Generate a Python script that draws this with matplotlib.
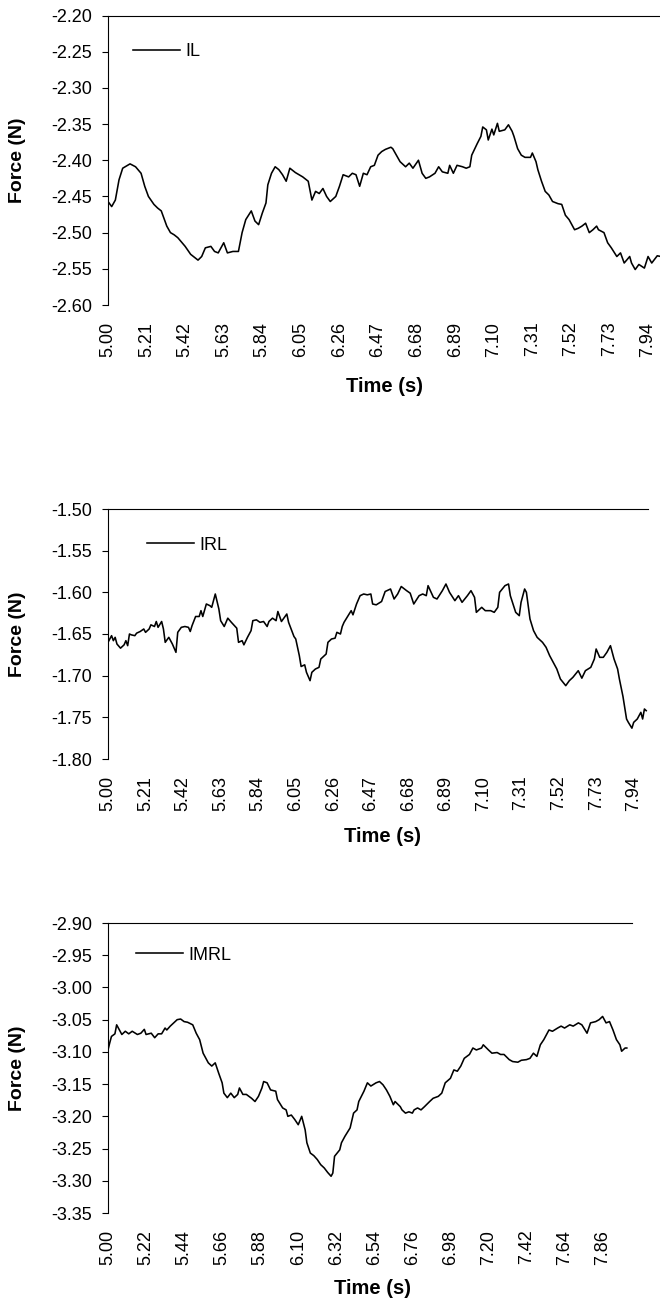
import matplotlib
matplotlib.use('Agg')
import matplotlib.pyplot as plt

plt.rcParams['font.family'] = ['Liberation Sans', 'DejaVu Sans']
plt.rcParams['axes.unicode_minus'] = False

# ---- IL ----
time_il = [5.00, 5.02, 5.04, 5.06, 5.08, 5.12, 5.15, 5.18, 5.20, 5.22,
           5.25, 5.27, 5.29, 5.32, 5.34, 5.36, 5.38, 5.42, 5.45, 5.49,
           5.51, 5.53, 5.56, 5.58, 5.60, 5.63, 5.65, 5.68, 5.71, 5.73,
           5.75, 5.78, 5.80, 5.82, 5.84, 5.86, 5.87, 5.89, 5.91, 5.93,
           5.95, 5.97, 5.99, 6.02, 6.04, 6.06, 6.09, 6.11, 6.13, 6.15,
           6.17, 6.19, 6.21, 6.24, 6.26, 6.28, 6.31, 6.33, 6.35, 6.37,
           6.39, 6.41, 6.43, 6.45, 6.47, 6.49, 6.51, 6.54, 6.55, 6.57,
           6.59, 6.62, 6.64, 6.66, 6.69, 6.71, 6.73, 6.75, 6.78, 6.80,
           6.82, 6.85, 6.86, 6.88, 6.90, 6.93, 6.95, 6.97, 6.98, 7.01,
           7.03, 7.04, 7.06, 7.07, 7.09, 7.10, 7.12, 7.13, 7.16, 7.18,
           7.20, 7.21, 7.23, 7.25, 7.27, 7.30, 7.31, 7.33, 7.34, 7.36,
           7.38, 7.40, 7.42, 7.45, 7.47, 7.49, 7.51, 7.54, 7.56, 7.58,
           7.60, 7.62, 7.64, 7.66, 7.67, 7.70, 7.72, 7.74, 7.77, 7.79,
           7.81, 7.84, 7.85, 7.87, 7.89, 7.92, 7.94, 7.96, 7.99, 8.01]
force_il = [-2.457, -2.464, -2.455, -2.427, -2.411, -2.405, -2.409, -2.418, -2.436, -2.450,
            -2.461, -2.466, -2.470, -2.491, -2.500, -2.503, -2.507, -2.519, -2.530, -2.538,
            -2.533, -2.521, -2.519, -2.526, -2.528, -2.514, -2.528, -2.526, -2.526, -2.500,
            -2.482, -2.470, -2.484, -2.489, -2.473, -2.459, -2.434, -2.418, -2.409, -2.413,
            -2.420, -2.429, -2.411, -2.417, -2.420, -2.423, -2.429, -2.455, -2.443, -2.446,
            -2.439, -2.450, -2.457, -2.450, -2.436, -2.420, -2.423, -2.418, -2.420, -2.436,
            -2.418, -2.420, -2.409, -2.407, -2.393, -2.388, -2.385, -2.382, -2.384, -2.393,
            -2.402, -2.409, -2.404, -2.411, -2.400, -2.418, -2.425, -2.423, -2.418, -2.409,
            -2.416, -2.418, -2.407, -2.418, -2.407, -2.409, -2.411, -2.409, -2.393, -2.377,
            -2.367, -2.354, -2.358, -2.372, -2.357, -2.365, -2.349, -2.360, -2.358, -2.351,
            -2.360, -2.367, -2.384, -2.393, -2.396, -2.396, -2.390, -2.402, -2.413, -2.429,
            -2.443, -2.448, -2.457, -2.460, -2.461, -2.476, -2.482, -2.496, -2.494, -2.491,
            -2.487, -2.500, -2.496, -2.491, -2.496, -2.500, -2.514, -2.521, -2.533, -2.528,
            -2.542, -2.533, -2.542, -2.551, -2.544, -2.549, -2.533, -2.542, -2.532, -2.533]
yticks_il = [-2.60, -2.55, -2.50, -2.45, -2.40, -2.35, -2.30, -2.25, -2.20]
xlabels_il = ['5.00', '5.21', '5.42', '5.63', '5.84', '6.05', '6.26', '6.47',
              '6.68', '6.89', '7.10', '7.31', '7.52', '7.73', '7.94']

# ---- IRL ----
time_irl = [5.00, 5.01, 5.02, 5.03, 5.04, 5.05, 5.07, 5.09, 5.10, 5.11,
            5.12, 5.13, 5.15, 5.16, 5.18, 5.20, 5.21, 5.23, 5.24, 5.26,
            5.27, 5.28, 5.30, 5.31, 5.32, 5.34, 5.36, 5.38, 5.39, 5.41,
            5.43, 5.45, 5.46, 5.47, 5.49, 5.51, 5.52, 5.53, 5.55, 5.57,
            5.58, 5.60, 5.62, 5.63, 5.65, 5.67, 5.69, 5.72, 5.73, 5.75,
            5.76, 5.78, 5.80, 5.81, 5.83, 5.85, 5.87, 5.89, 5.90, 5.92,
            5.94, 5.95, 5.97, 6.00, 6.01, 6.04, 6.05, 6.07, 6.08, 6.10,
            6.11, 6.13, 6.14, 6.16, 6.18, 6.19, 6.22, 6.23, 6.25, 6.27,
            6.28, 6.30, 6.31, 6.32, 6.34, 6.36, 6.37, 6.39, 6.41, 6.43,
            6.45, 6.47, 6.48, 6.50, 6.53, 6.55, 6.58, 6.60, 6.62, 6.64,
            6.67, 6.69, 6.71, 6.74, 6.76, 6.78, 6.79, 6.82, 6.84, 6.87,
            6.89, 6.91, 6.94, 6.96, 6.98, 7.01, 7.03, 7.05, 7.06, 7.09,
            7.11, 7.14, 7.16, 7.18, 7.19, 7.22, 7.24, 7.25, 7.28, 7.30,
            7.31, 7.33, 7.34, 7.36, 7.38, 7.40, 7.43, 7.45, 7.47, 7.49,
            7.51, 7.53, 7.56, 7.58, 7.60, 7.63, 7.65, 7.67, 7.70, 7.72,
            7.73, 7.75, 7.77, 7.79, 7.81, 7.83, 7.85, 7.86, 7.88, 7.90,
            7.91, 7.93, 7.94, 7.96, 7.98, 7.99, 8.00, 8.01]
force_irl = [-1.660, -1.656, -1.652, -1.658, -1.654, -1.662, -1.667, -1.663, -1.658, -1.664,
             -1.650, -1.651, -1.652, -1.649, -1.647, -1.644, -1.648, -1.644, -1.639, -1.641,
             -1.635, -1.642, -1.635, -1.644, -1.660, -1.654, -1.662, -1.672, -1.648, -1.642,
             -1.641, -1.642, -1.647, -1.640, -1.629, -1.629, -1.622, -1.629, -1.614, -1.616,
             -1.618, -1.602, -1.620, -1.634, -1.641, -1.631, -1.636, -1.643, -1.660, -1.658,
             -1.663, -1.654, -1.646, -1.634, -1.633, -1.636, -1.635, -1.641, -1.635, -1.631,
             -1.634, -1.623, -1.635, -1.626, -1.636, -1.653, -1.656, -1.676, -1.689, -1.687,
             -1.696, -1.706, -1.696, -1.692, -1.690, -1.680, -1.674, -1.660, -1.656, -1.655,
             -1.648, -1.650, -1.641, -1.636, -1.629, -1.622, -1.627, -1.614, -1.604, -1.602,
             -1.603, -1.602, -1.614, -1.615, -1.611, -1.599, -1.596, -1.608, -1.602, -1.593,
             -1.598, -1.601, -1.614, -1.604, -1.602, -1.604, -1.592, -1.606, -1.608, -1.598,
             -1.590, -1.600, -1.610, -1.604, -1.612, -1.604, -1.598, -1.606, -1.624, -1.618,
             -1.622, -1.622, -1.624, -1.618, -1.600, -1.592, -1.590, -1.604, -1.624, -1.628,
             -1.612, -1.596, -1.600, -1.632, -1.646, -1.654, -1.660, -1.666, -1.676, -1.684,
             -1.692, -1.704, -1.712, -1.706, -1.702, -1.694, -1.703, -1.694, -1.690, -1.680,
             -1.668, -1.678, -1.678, -1.672, -1.664, -1.680, -1.692, -1.704, -1.725, -1.752,
             -1.756, -1.763, -1.756, -1.752, -1.744, -1.752, -1.740, -1.742]
yticks_irl = [-1.80, -1.75, -1.70, -1.65, -1.60, -1.55, -1.50]
xlabels_irl = ['5.00', '5.21', '5.42', '5.63', '5.84', '6.05', '6.26', '6.47',
               '6.68', '6.89', '7.10', '7.31', '7.52', '7.73', '7.94']

# ---- IMRL ----
time_imrl = [5.00, 5.01, 5.02, 5.04, 5.05, 5.06, 5.08, 5.10, 5.12, 5.14,
             5.17, 5.19, 5.21, 5.22, 5.25, 5.27, 5.29, 5.31, 5.33, 5.34,
             5.36, 5.38, 5.40, 5.42, 5.44, 5.46, 5.49, 5.51, 5.53, 5.55,
             5.56, 5.58, 5.60, 5.62, 5.64, 5.66, 5.67, 5.69, 5.71, 5.73,
             5.75, 5.76, 5.78, 5.80, 5.83, 5.85, 5.87, 5.89, 5.90, 5.92,
             5.94, 5.97, 5.98, 6.01, 6.03, 6.04, 6.06, 6.08, 6.10, 6.12,
             6.14, 6.15, 6.17, 6.19, 6.21, 6.23, 6.25, 6.27, 6.29, 6.30,
             6.31, 6.34, 6.35, 6.37, 6.40, 6.42, 6.44, 6.45, 6.48, 6.50,
             6.52, 6.55, 6.57, 6.59, 6.61, 6.63, 6.65, 6.66, 6.69, 6.70,
             6.72, 6.74, 6.76, 6.77, 6.79, 6.81, 6.83, 6.86, 6.88, 6.91,
             6.93, 6.95, 6.98, 7.00, 7.02, 7.04, 7.06, 7.09, 7.11, 7.13,
             7.16, 7.17, 7.20, 7.22, 7.25, 7.27, 7.29, 7.32, 7.34, 7.37,
             7.39, 7.42, 7.44, 7.46, 7.48, 7.50, 7.52, 7.55, 7.57, 7.60,
             7.62, 7.64, 7.67, 7.69, 7.72, 7.74, 7.77, 7.79, 7.82, 7.84,
             7.86, 7.88, 7.90, 7.92, 7.94, 7.96, 7.97, 7.99, 8.00]
force_imrl = [-3.097, -3.086, -3.076, -3.072, -3.058, -3.063, -3.073, -3.068, -3.072, -3.068,
              -3.073, -3.071, -3.065, -3.073, -3.071, -3.078, -3.072, -3.072, -3.063, -3.066,
              -3.060, -3.055, -3.050, -3.049, -3.053, -3.054, -3.058, -3.071, -3.081, -3.102,
              -3.107, -3.117, -3.122, -3.117, -3.133, -3.148, -3.164, -3.171, -3.164, -3.171,
              -3.166, -3.156, -3.166, -3.166, -3.172, -3.177, -3.169, -3.156, -3.146, -3.148,
              -3.159, -3.161, -3.174, -3.187, -3.190, -3.200, -3.198, -3.205, -3.213, -3.200,
              -3.221, -3.241, -3.257, -3.261, -3.267, -3.275, -3.280, -3.287, -3.293, -3.288,
              -3.262, -3.252, -3.241, -3.231, -3.218, -3.195, -3.190, -3.177, -3.161, -3.148,
              -3.153, -3.148, -3.146, -3.151, -3.159, -3.169, -3.182, -3.177, -3.185, -3.190,
              -3.195, -3.193, -3.195, -3.190, -3.187, -3.190, -3.185, -3.177, -3.172, -3.169,
              -3.164, -3.148, -3.141, -3.128, -3.130, -3.122, -3.110, -3.104, -3.094, -3.097,
              -3.094, -3.089, -3.097, -3.102, -3.101, -3.104, -3.104, -3.112, -3.115, -3.116,
              -3.113, -3.112, -3.110, -3.102, -3.107, -3.089, -3.081, -3.066, -3.068, -3.063,
              -3.060, -3.063, -3.058, -3.060, -3.055, -3.058, -3.071, -3.055, -3.053, -3.050,
              -3.045, -3.055, -3.053, -3.066, -3.081, -3.089, -3.099, -3.094, -3.094]
yticks_imrl = [-3.35, -3.30, -3.25, -3.20, -3.15, -3.10, -3.05, -3.00, -2.95, -2.90]
xlabels_imrl = ['5.00', '5.22', '5.44', '5.66', '5.88', '6.10', '6.32', '6.54',
                '6.76', '6.98', '7.20', '7.42', '7.64', '7.86']

W, H = 660, 1301
fig = plt.figure(figsize=(W / 100, H / 100), dpi=100)


def px_axes(left, top, right, bottom):
    return fig.add_axes([left / W, 1 - bottom / H, (right - left) / W, (bottom - top) / H])


# (times, forces, name, yticks, xlabels, box in px, xmax, legend anchor, time label centre)
panels = [
    (time_il, force_il, 'IL', yticks_il, xlabels_il, (108, 15.5, 660, 305), 8.005, (133, 52), (385, 386)),
    (time_irl, force_irl, 'IRL', yticks_irl, xlabels_irl, (108, 509, 648, 759), 8.02, (147, 545), (383, 837)),
    (time_imrl, force_imrl, 'IMRL', yticks_imrl, xlabels_imrl, (108, 923, 632, 1213), 8.03, (136, 955), (372, 1288)),
]

for t, f, name, yt, xl, box, xmax, leg, tl in panels:
    ax = px_axes(*box)
    ax.plot(t, f, color='black', lw=1.15, label=name)
    ax.set_xlim(5.0, xmax)
    ax.set_ylim(yt[0], yt[-1])
    ax.set_yticks(yt)
    ax.set_yticklabels(['%.2f' % v for v in yt])
    ax.set_xticks([float(s) for s in xl])
    ax.set_xticklabels(xl, rotation=90)
    ax.tick_params(axis='y', direction='out', length=4.3, width=0.8, pad=7, labelsize=13)
    ax.tick_params(axis='x', length=0, pad=12, labelsize=13)
    for s in ['right', 'bottom']:
        ax.spines[s].set_visible(False)
    for s in ['left', 'top']:
        ax.spines[s].set_linewidth(0.8)
        ax.spines[s].set_color('black')
    l, tp, r, b = box
    ax.legend(loc='center left',
              bbox_to_anchor=((leg[0] - l) / (r - l), (b - leg[1]) / (b - tp)),
              frameon=False, handlelength=2.6, handletextpad=0.3,
              borderpad=0, borderaxespad=0, fontsize=13)
    fig.text(18 / W, 1 - (tp + b) / 2 / H, 'Force (N)', rotation=90,
             ha='center', va='center', fontsize=14, fontweight='bold')
    fig.text(tl[0] / W, 1 - tl[1] / H, 'Time (s)', ha='center', va='center',
             fontsize=14.5, fontweight='bold')

fig.savefig('out.png', dpi=100)
